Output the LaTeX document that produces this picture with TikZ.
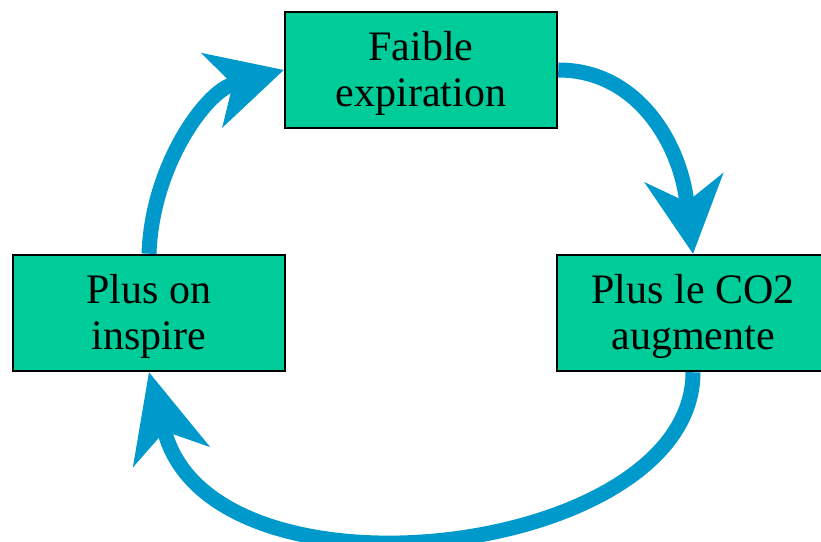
\documentclass[tikz,border=0pt]{standalone}
\usepackage{fontspec}
\setmainfont{Liberation Serif}
\usetikzlibrary{arrows.meta,backgrounds}
\definecolor{boxgreen}{HTML}{00CC99}
\definecolor{arrowblue}{HTML}{0099CC}
\newcommand{\twolines}[2]{\raisebox{-4.5pt}[\height][\depth]{\begin{tabular}{@{}c@{}}#1\\#2\end{tabular}}}
\tikzset{
  box/.style={draw=black, line width=2.5pt, fill=boxgreen, minimum width=272pt, minimum height=116pt,
    inner sep=0pt, align=center, font=\fontsize{42}{46}\selectfont},
  cyc/.style={draw=arrowblue, line width=15pt}
}
\begin{document}
\begin{tikzpicture}[x=1pt,y=1pt]
\useasboundingbox (0,0) rectangle (821,541);
\node[box] (top) at (421,471) {\twolines{Faible}{expiration}};
\node[box] (left) at (149,228) {\twolines{Plus on}{inspire}};
\node[box] (right) at (693,228) {\twolines{Plus le CO2}{augmente}};
\begin{scope}[on background layer]
\draw[cyc, -{Stealth[length=75pt,width=78pt,inset=22pt,line width=0pt]}]
  (left.north) .. controls +(3,88) and +(-78,-22) .. (top.west);
\draw[cyc, -{Stealth[length=77pt,width=80pt,inset=25pt,line width=0pt]}]
  (top.east) .. controls +(80,0) and +(-13,109) .. (right.north);
\draw[cyc, -{Stealth[length=88pt,width=80pt,inset=27pt,line width=0pt]}]
  (right.south) .. controls +(0,-185) and +(64,-242) .. (left.south);
\end{scope}
\end{tikzpicture}
\end{document}
